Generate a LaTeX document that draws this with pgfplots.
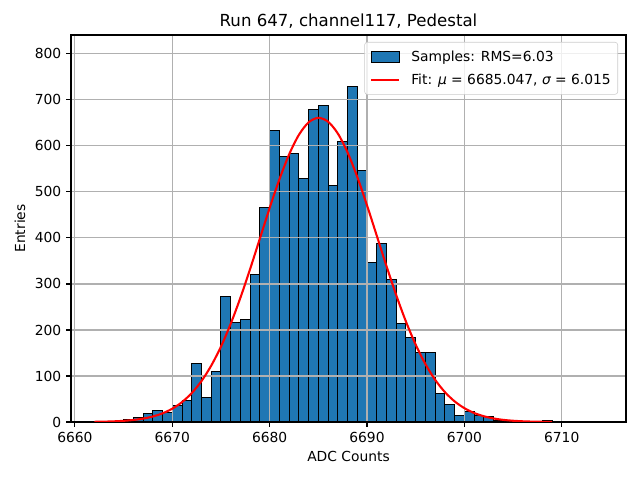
\documentclass[border=0pt]{standalone}
\usepackage{fontspec}
\setmainfont{DejaVu Sans}
\usepackage{pgfplots}
\pgfplotsset{compat=1.18}
\definecolor{mplblue}{HTML}{1F77B4}
\definecolor{gridgray}{HTML}{B0B0B0}
\definecolor{legframe}{HTML}{CCCCCC}
\pgfplotsset{
  barleg/.style={legend image code/.code={\draw[##1, sharp corners, line width=0.7pt, fill opacity=1] (0in,-0.052in) rectangle (0.28in,0.052in);}},
  lineleg/.style={legend image code/.code={\draw[##1, sharp corners] (0in,0in) -- (0.28in,0in);}},
}
\begin{document}
\begin{tikzpicture}
\begin{axis}[
  set layers,
  scale only axis, width=5.55in, height=3.87in,
  at={(0,0)}, anchor=south west,
  xmin=6659.6, xmax=6716.6, ymin=0, ymax=841,
  xtick={6660,6670,...,6710}, ytick={0,100,...,800},
  /pgf/number format/1000 sep={}, /pgf/number format/assume math mode=true,
  tick label style={font=\fontsize{10}{12}\selectfont},
  grid=major, major grid style={gridgray, line width=0.8pt},
  tick align=outside, xtick pos=left, ytick pos=left, major tick length=3.5pt,
  tick style={black, line width=0.8pt},
  axis line style={line width=0.8pt},
  title={Run 647, channel117, Pedestal},
  title style={font=\fontsize{12}{14}\selectfont, yshift=-5pt},
  xlabel={ADC Counts}, ylabel={Entries},
  label style={font=\fontsize{10}{12}\selectfont},
  legend cell align=left,
  legend style={at={(0.9856,0.982)}, anchor=north east, draw=legframe,
    fill=white, fill opacity=0.8, text opacity=1, rounded corners=2pt,
    font=\fontsize{10}{12}\selectfont, row sep=3.5pt, inner xsep=4pt, inner ysep=4pt,
    nodes={inner xsep=1pt},
    /tikz/every odd column/.append style={column sep=7pt}},
]
\addplot[ybar interval, fill=mplblue, draw=black, line width=0.7pt, on layer=axis background, barleg] coordinates {
(6662,1) (6663,0) (6664,2) (6665,6) (6666,10) (6667,18) (6668,25) (6669,20)
(6670,35) (6671,47) (6672,127) (6673,54) (6674,110) (6675,273) (6676,217)
(6677,223) (6678,320) (6679,467) (6680,634) (6681,576) (6682,583) (6683,530)
(6684,680) (6685,687) (6686,515) (6687,609) (6688,729) (6689,546) (6690,346)
(6691,387) (6692,309) (6693,215) (6694,183) (6695,152) (6696,150) (6697,61)
(6698,37) (6699,14) (6700,23) (6701,14) (6702,11) (6703,4) (6704,2) (6705,1)
(6706,1) (6707,0) (6708,4) (6709,4)
};
\addlegendentry{Samples: RMS=6.03}
\addplot[red, line width=1.5pt, smooth, lineleg] coordinates {
(6662,0.43) (6663,0.80) (6664,1.45) (6665,2.56) (6666,4.39) (6667,7.34)
(6668,11.9) (6669,18.8) (6670,28.9) (6671,43.2) (6672,62.9) (6673,88.9)
(6674,122.4) (6675,163.8) (6676,213.3) (6677,270.1) (6678,332.7) (6679,398.8)
(6680,464.9) (6681,527.1) (6682,581.4) (6683,623.8) (6684,651.1) (6685,661.0)
(6686,652.7) (6687,627.1) (6688,586.0) (6689,532.6) (6690,470.9) (6691,405.1)
(6692,338.9) (6693,275.8) (6694,218.3) (6695,168.2) (6696,125.9) (6697,91.7)
(6698,65.0) (6699,44.8) (6700,30.1) (6701,19.6) (6702,12.5) (6703,7.69)
(6704,4.61) (6705,2.70) (6706,1.53) (6707,0.85) (6708,0.45) (6709,0.24)
};
\addlegendentry{Fit: {\itshape μ} = 6685.047, {\itshape σ} = 6.015}
\end{axis}
\pgfresetboundingbox
\path[use as bounding box] (-0.71in,-0.58in) rectangle (5.69in,4.22in);
\end{tikzpicture}
\end{document}
